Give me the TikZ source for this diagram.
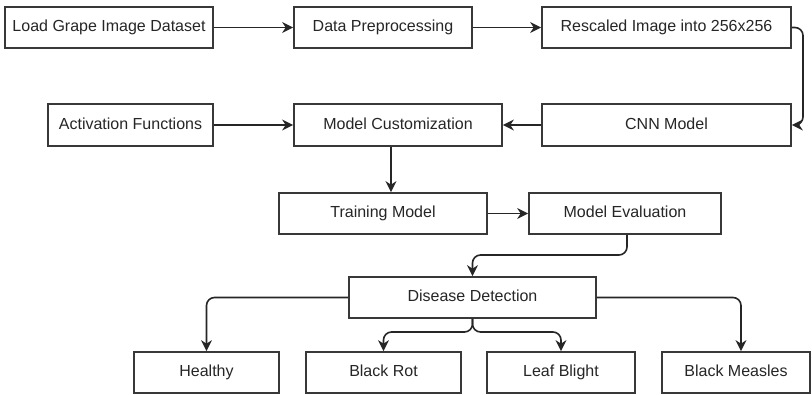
\documentclass[tikz,border=0pt]{standalone}
\usepackage{fontspec}
\setmainfont{Liberation Sans}
\usetikzlibrary{arrows.meta,calc}
\begin{document}
\begin{tikzpicture}[x=1pt,y=-1pt,
  box/.style={draw=black!78,line width=1.7pt,rectangle,inner sep=0pt,
    minimum height=41pt,text=black!85,text height=12pt,text depth=3.5pt,
    font=\fontsize{16}{19}\selectfont},
  conn/.style={draw=black!85,line width=1.6pt,rounded corners=8pt,
    -{Stealth[length=11pt,width=11pt,inset=3.5pt]}}
]
\useasboundingbox (0,0) rectangle (812,395);
\fill[white] (0,0) rectangle (812,395);

\node[box,minimum width=208pt] (load) at (109,27.5) {Load Grape Image Dataset};
\node[box,minimum width=178pt] (data) at (383,27.5) {Data Preprocessing};
\node[box,minimum width=249pt] (resc) at (666.5,27.5) {Rescaled Image into 256x256};
\node[box,minimum width=165pt,minimum height=42pt] (act) at (130.5,125) {Activation Functions};
\node[box,minimum width=208pt,minimum height=42pt] (cust) at (398,125) {Model Customization};
\node[box,minimum width=249pt,minimum height=42pt] (cnn) at (666.5,125) {CNN Model};
\node[box,minimum width=208pt] (train) at (383,213.5) {Training Model};
\node[box,minimum width=192pt] (eval) at (625,213.5) {Model Evaluation};
\node[box,minimum width=247pt] (dd) at (472.5,297.5) {Disease Detection};
\node[box,minimum width=145pt] (healthy) at (206.5,372.5) {Healthy};
\node[box,minimum width=155pt] (rot) at (383.5,372.5) {Black Rot};
\node[box,minimum width=148pt] (blight) at (561,372.5) {Leaf Blight};
\node[box,minimum width=148pt] (measles) at (736,372.5) {Black Measles};

\coordinate (rtop) at (803,27.5);
\coordinate (rbot) at (803,125);
\coordinate (ebend) at (627,255);
\coordinate (split) at (472.5,332);
\coordinate (mx) at (741,297.5);

\draw[conn] (load.east) -- (data.west);
\draw[conn] (data.east) -- (resc.west);
\draw[conn] (resc.east) -- (rtop) -- (rbot) -- (cnn.east);
\draw[conn] (act.east) -- (cust.west);
\draw[conn] (cnn.west) -- (cust.east);
\draw[conn] ([xshift=-7pt]cust.south) -- ([xshift=-7pt]cust.south |- train.north);
\draw[conn] (train.east) -- (eval.west);
\draw[conn] ([xshift=2pt]eval.south) -- (ebend) -- (ebend -| dd.north) -- (dd.north);
\draw[conn] (dd.west) -- (dd.west -| healthy.north) -- (healthy.north);
\draw[conn] (dd.east) -- (mx) -- (mx |- measles.north);
\draw[conn] (dd.south) -- (split) -- (split -| rot.north) -- (rot.north);
\draw[conn] (dd.south) -- (split) -- (split -| blight.north) -- (blight.north);
\end{tikzpicture}
\end{document}
